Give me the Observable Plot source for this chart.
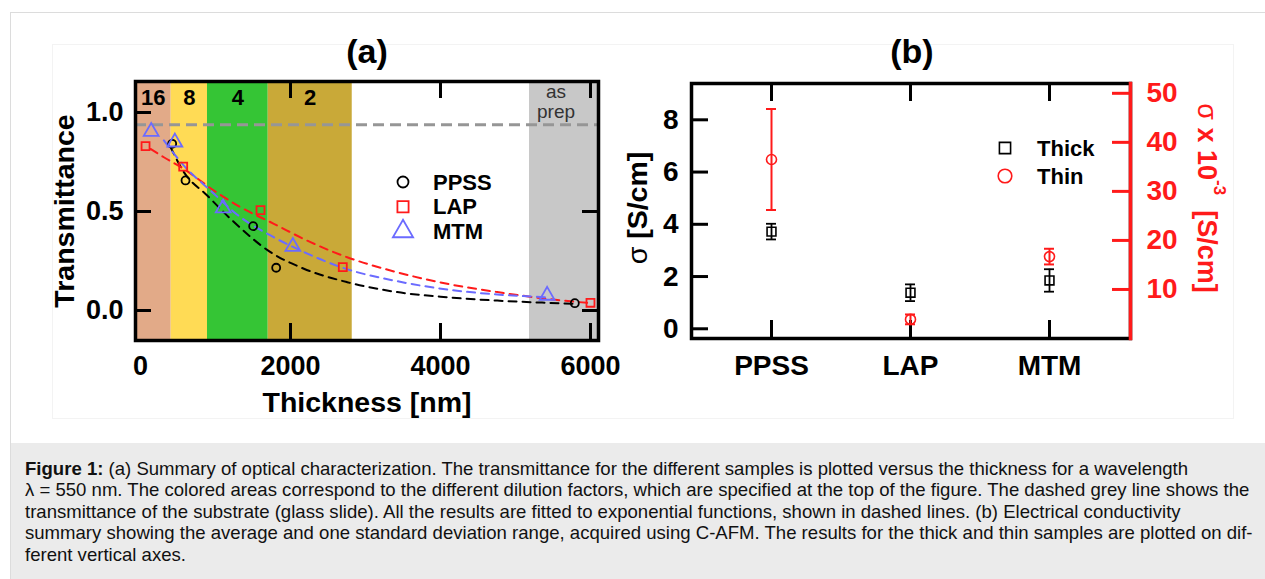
<!DOCTYPE html>
<html>
<head>
<meta charset="utf-8">
<script src="https://cdn.jsdelivr.net/npm/d3@7"></script>
<script src="https://cdn.jsdelivr.net/npm/@observablehq/plot@0.6"></script>
<style>
  html, body { margin:0; padding:0; background:#fff; }
  #page { position:relative; width:1265px; height:579px; overflow:hidden; font-family:"Liberation Sans", Arial, Helvetica, sans-serif; }
  #outer { position:absolute; left:10px; top:12px; width:1300px; height:600px; border-left:1px solid #dcdcdc; border-top:1px solid #dcdcdc; }
  #figbox { position:absolute; left:52px; top:44px; width:1180px; height:373px; border:1px solid #f3f3f3; }
  #panelA, #panelB, #panelB2 { position:absolute; top:0; }
  #panelA { left:0; }
  #panelB, #panelB2 { left:600px; }
  #caption { position:absolute; left:11px; top:443px; width:1254px; height:136px; background:#ebebeb; }
  #captext { position:absolute; left:14px; top:15px; font-size:15px; line-height:21.4px; white-space:nowrap; color:#111; }
  #captext .ln span { display:inline-block; }
</style>
</head>
<body>
<div id="page">
  <div id="outer"></div>
  <div id="figbox"></div>
  <div id="panelA"></div>
  <div id="panelB"></div>
  <div id="panelB2"></div>
  <div id="caption"><div id="captext">
    <div class="ln"><span><b>Figure 1:</b> (a) Summary of optical characterization. The transmittance for the different samples is plotted versus the thickness for a wavelength</span></div>
    <div class="ln"><span>λ = 550 nm. The colored areas correspond to the different dilution factors, which are specified at the top of the figure. The dashed grey line shows the</span></div>
    <div class="ln"><span>transmittance of the substrate (glass slide). All the results are fitted to exponential functions, shown in dashed lines. (b) Electrical conductivity</span></div>
    <div class="ln"><span>summary showing the average and one standard deviation range, acquired using C-AFM. The results for the thick and thin samples are plotted on dif-</span></div>
    <div class="ln"><span>ferent vertical axes.</span></div>
  </div></div>
</div>
<script>
// ---------------- Panel (a) data ----------------
const thicknessTicks = [0, 2000, 4000, 6000];
const transmittanceTicks = [0, 0.5, 1];
const dilutionLabels = ["16", "8", "4", "2", "as\nprep"];
const dilutionFrom = [-67, 409, 893, 1703, 5187];
const dilutionTo = [409, 893, 1703, 2823, 6107];
const substrateTransmittance = 0.938;

const seriesNames = ["PPSS", "LAP", "MTM"];
const ppssThickness = [422, 600, 1502, 1809, 5791];
const ppssTransmittance = [0.842, 0.657, 0.426, 0.216, 0.037];
const lapThickness = [67, 569, 1600, 2697, 6000];
const lapTransmittance = [0.83, 0.727, 0.507, 0.219, 0.039];
const mtmThickness = [142, 458, 1102, 2031, 5422];
const mtmTransmittance = [0.904, 0.85, 0.517, 0.323, 0.076];

// exponential fits
const ppssFitThickness = [400, 578, 889, 1200, 1733, 2178, 2756, 3422, 4089, 4756, 5422, 5800];
const ppssFitTransmittance = [0.825, 0.699, 0.581, 0.463, 0.295, 0.211, 0.143, 0.093, 0.067, 0.05, 0.039, 0.034];
const lapFitThickness = [133, 311, 578, 978, 1333, 1778, 2267, 2756, 3422, 4089, 4756, 5422, 6000];
const lapFitTransmittance = [0.816, 0.774, 0.715, 0.606, 0.522, 0.438, 0.345, 0.269, 0.193, 0.135, 0.093, 0.059, 0.037];
const mtmFitThickness = [311, 578, 933, 1333, 1733, 2089, 2711, 3422, 4089, 4756, 5422];
const mtmFitTransmittance = [0.859, 0.732, 0.606, 0.471, 0.379, 0.311, 0.214, 0.148, 0.106, 0.081, 0.067];

// ---------------- Panel (b) data ----------------
const samples = ["PPSS", "LAP", "MTM"];
const thickSigma = [3.72, 1.38, 1.85];      // S/cm
const thickSigmaSD = [0.30, 0.32, 0.43];
const thinSigma = [36.5, 3.9, 16.7];        // x 10^-3 S/cm
const thinSigmaSD = [10.3, 1.0, 1.6];
const thickTicks = [0, 2, 4, 6, 8];
const thinTicks = [10, 20, 30, 40, 50];
const conductivityLegend = ["Thick", "Thin"];

// ---------------- styles ----------------
const FONT = '"Liberation Sans", Arial, Helvetica, sans-serif';
const dilutionColors = ["#e2aa88", "#ffdb55", "#35c535", "#c9a938", "#c8c8c8"];
const RED = "#ff1a1a", BLUE = "#6b6bff";
const seriesColors = ["black", RED, BLUE];
const seriesSymbols = ["circle", "square", "triangle"];
const seriesR = [4, 4.5, 5.5];
const legendR = [5.5, 6.3, 7.5];

const pts = (xs, ys) => xs.map((x, i) => ({x, y: ys[i]}));

// ---------------- Panel (a) ----------------
const A = {width: 640, height: 430, ml: 135, mr: 42, mt: 81, mb: 90};
const aw = A.width - A.ml - A.mr, ah = A.height - A.mt - A.mb;
const bandIdx = d3.range(dilutionLabels.length);
const fits = [
  pts(ppssFitThickness, ppssFitTransmittance),
  pts(lapFitThickness, lapFitTransmittance),
  pts(mtmFitThickness, mtmFitTransmittance)
];
const meas = [
  pts(ppssThickness, ppssTransmittance),
  pts(lapThickness, lapTransmittance),
  pts(mtmThickness, mtmTransmittance)
];

const svgA = Plot.plot({
  width: A.width, height: A.height,
  marginLeft: A.ml, marginRight: A.mr, marginTop: A.mt, marginBottom: A.mb,
  style: {fontFamily: FONT, background: "transparent", color: "black"},
  x: {domain: [-67, 6107]},
  y: {domain: [-0.1515, 1.1566]},
  color: {type: "identity"},
  marks: [
    Plot.rect(bandIdx, {x1: i => dilutionFrom[i], x2: i => dilutionTo[i], fill: i => dilutionColors[i]}),
    Plot.text(bandIdx.slice(0, 4), {x: i => (dilutionFrom[i] + dilutionTo[i]) / 2, text: i => dilutionLabels[i],
      frameAnchor: "top", lineAnchor: "middle", dy: 16, fontSize: 22, fontWeight: "bold"}),
    Plot.text(bandIdx.slice(4), {x: i => (dilutionFrom[i] + dilutionTo[i]) / 2, text: i => dilutionLabels[i],
      frameAnchor: "top", lineAnchor: "middle", dy: 20, dx: -8, fontSize: 19, lineHeight: 1.08, fill: "#333"}),
    Plot.ruleY([substrateTransmittance], {stroke: "#969696", strokeWidth: 3, strokeDasharray: "11,6"}),
    ...fits.map((f, k) => Plot.line(f, {x: "x", y: "y", stroke: seriesColors[k], strokeWidth: 2,
      strokeDasharray: "8,6", curve: "monotone-x"})),
    ...meas.map((m, k) => Plot.dot(m, {x: "x", y: "y", symbol: seriesSymbols[k], r: seriesR[k],
      stroke: seriesColors[k], strokeWidth: 1.8, fill: "none"})),
    Plot.tickY(transmittanceTicks, {y: d => d, insetRight: aw - 16, strokeWidth: 3}),
    Plot.tickY(transmittanceTicks.filter(d => d < 1), {y: d => d, insetLeft: aw - 16, strokeWidth: 3}),
    Plot.tickX(thicknessTicks.filter(d => d > 0), {x: d => d, insetTop: ah - 17, strokeWidth: 3}),
    Plot.tickX(thicknessTicks.filter(d => d > 0), {x: d => d, insetBottom: ah - 17, strokeWidth: 3}),
    Plot.frame({stroke: "black", strokeWidth: 3.5}),
    Plot.axisX({ticks: thicknessTicks, tickSize: 0, tickPadding: 15, tickFormat: d3.format("d"),
      fontSize: 27, fontWeight: "bold", label: null}),
    Plot.axisY({ticks: transmittanceTicks, tickSize: 0, tickPadding: 12, tickFormat: d3.format(".1f"),
      fontSize: 27, fontWeight: "bold", label: null})
  ]
});
document.getElementById("panelA").append(svgA);

function addText(svg, o) {
  const t = d3.select(svg).append("text")
    .attr("x", o.x).attr("y", o.y)
    .attr("text-anchor", o.anchor || "middle")
    .attr("dominant-baseline", "central")
    .attr("font-family", FONT)
    .attr("font-size", o.size)
    .attr("font-weight", o.weight || "bold")
    .attr("fill", o.fill || "black")
    .text(o.text);
  if (o.rotate) t.attr("transform", `rotate(${o.rotate},${o.x},${o.y})`);
  return t;
}
addText(svgA, {x: 367, y: 51, text: "(a)", size: 34});
addText(svgA, {x: 64, y: 211, text: "Transmittance", size: 28.5, rotate: -90});
addText(svgA, {x: 367, y: 402, text: "Thickness [nm]", size: 28.5});

// legend (a)
{
  const g = d3.select(svgA).append("g");
  seriesNames.forEach((name, k) => {
    const y = 182 + k * 24.7;
    const r = legendR[k];
    const sym = {circle: d3.symbolCircle, square: d3.symbolSquare, triangle: d3.symbolTriangle}[seriesSymbols[k]];
    g.append("path").attr("d", d3.symbol(sym, Math.PI * r * r)()).attr("transform", `translate(403,${y})`)
      .attr("fill", "none").attr("stroke", seriesColors[k]).attr("stroke-width", 1.8);
    addText(svgA, {x: 433, y: y, text: name, size: 22, anchor: "start"});
  });
}

// ---------------- Panel (b) ----------------
const B = {width: 665, height: 430, ml: 91, mr: 135, mt: 83, mb: 92};
const bw = B.width - B.ml - B.mr, bh = B.height - B.mt - B.mb;
const xBand = {type: "band", domain: samples, paddingInner: 0.928, paddingOuter: 0.5375, align: 0.5};
const sIdx = d3.range(samples.length);

const svgB = Plot.plot({
  width: B.width, height: B.height,
  marginLeft: B.ml, marginRight: B.mr, marginTop: B.mt, marginBottom: B.mb,
  style: {fontFamily: FONT, background: "transparent", color: "black"},
  x: xBand,
  y: {domain: [-0.372, 9.39]},
  marks: [
    Plot.frame({stroke: "black", strokeWidth: 3.5}),
    Plot.tickY(thickTicks, {y: d => d, insetRight: bw - 17, strokeWidth: 3}),
    Plot.tickX(samples, {x: d => d, insetTop: bh - 18, strokeWidth: 3}),
    Plot.tickX(samples, {x: d => d, insetBottom: bh - 18, strokeWidth: 3}),
    Plot.ruleX(sIdx, {x: i => samples[i], y1: i => thickSigma[i] - thickSigmaSD[i], y2: i => thickSigma[i] + thickSigmaSD[i],
      stroke: "black", strokeWidth: 1.8}),
    Plot.tickY(sIdx, {x: i => samples[i], y: i => thickSigma[i] + thickSigmaSD[i], strokeWidth: 1.8}),
    Plot.tickY(sIdx, {x: i => samples[i], y: i => thickSigma[i] - thickSigmaSD[i], strokeWidth: 1.8}),
    Plot.dot(sIdx, {x: i => samples[i], y: i => thickSigma[i], symbol: "square", r: 5,
      stroke: "black", strokeWidth: 1.6, fill: "none"}),
    Plot.axisY({ticks: thickTicks, tickSize: 0, tickPadding: 13, fontSize: 28, fontWeight: "bold", label: null}),
    Plot.axisX({tickSize: 0, tickPadding: 17, fontSize: 28, fontWeight: "bold", label: null})
  ]
});
document.getElementById("panelB").append(svgB);

const svgB2 = Plot.plot({
  width: B.width, height: B.height,
  marginLeft: B.ml, marginRight: B.mr, marginTop: B.mt, marginBottom: B.mb,
  style: {fontFamily: FONT, background: "transparent", color: RED},
  x: {...xBand, axis: null},
  y: {domain: [0, 52]},
  marks: [
    Plot.frame({anchor: "right", stroke: RED, strokeWidth: 3.5}),
    Plot.tickY(thinTicks, {y: d => d, insetLeft: bw - 18, stroke: RED, strokeWidth: 3}),
    Plot.ruleX(sIdx, {x: i => samples[i], y1: i => thinSigma[i] - thinSigmaSD[i], y2: i => thinSigma[i] + thinSigmaSD[i],
      stroke: RED, strokeWidth: 2}),
    Plot.tickY(sIdx, {x: i => samples[i], y: i => thinSigma[i] + thinSigmaSD[i], stroke: RED, strokeWidth: 2}),
    Plot.tickY(sIdx, {x: i => samples[i], y: i => thinSigma[i] - thinSigmaSD[i], stroke: RED, strokeWidth: 2}),
    Plot.dot(sIdx, {x: i => samples[i], y: i => thinSigma[i], symbol: "circle", r: 5,
      stroke: RED, strokeWidth: 1.6, fill: "none"}),
    Plot.axisY({anchor: "right", ticks: thinTicks, tickSize: 0, tickPadding: 16, color: RED,
      fontSize: 28, fontWeight: "bold", label: null})
  ]
});
document.getElementById("panelB2").append(svgB2);

addText(svgB, {x: 312, y: 51, text: "(b)", size: 34});
{
  const t = addText(svgB, {x: 37, y: 208, text: "", size: 28.5, rotate: -90});
  t.append("tspan").attr("font-weight", "normal").text("σ");
  t.append("tspan").text(" [S/cm]");
}
{
  const t = addText(svgB2, {x: 607, y: 198, text: "", size: 27, rotate: 90, fill: RED});
  t.append("tspan").attr("font-weight", "normal").text("σ");
  t.append("tspan").text(" x 10");
  t.append("tspan").attr("font-size", 17).attr("dy", -13).text("-3");
  t.append("tspan").attr("dy", 13).text("  [S/cm]");
}
// legend (b)
{
  const g = d3.select(svgB2).append("g");
  const syms = [d3.symbolSquare, d3.symbolCircle];
  const cols = ["black", RED];
  const rs = [6.3, 6.8];
  conductivityLegend.forEach((name, k) => {
    const y = 148 + k * 28;
    g.append("path").attr("d", d3.symbol(syms[k], Math.PI * rs[k] * rs[k])()).attr("transform", `translate(405,${y})`)
      .attr("fill", "none").attr("stroke", cols[k]).attr("stroke-width", 1.6);
    addText(svgB2, {x: 437, y: y, text: name, size: 22, anchor: "start"});
  });
}

// caption fit
{
  const spans = document.querySelectorAll("#captext .ln span");
  const w = spans[1].getBoundingClientRect().width;
  const ct = document.getElementById("captext");
  ct.style.fontSize = (15 * 1225 / w) + "px";
}
</script>
</body>
</html>
